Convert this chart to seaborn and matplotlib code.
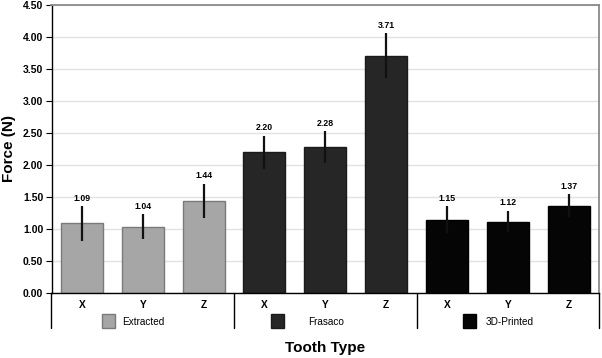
import matplotlib
matplotlib.use("Agg")
import matplotlib.pyplot as plt
import seaborn as sns
import pandas as pd
import numpy as np
from matplotlib.patches import Rectangle

# ---- data ----
groups = ["Extracted", "Frasaco", "3D-Printed"]
directions = ["X", "Y", "Z"]
extracted_means = [1.09, 1.04, 1.44]
frasaco_means = [2.20, 2.28, 3.71]
printed_means = [1.15, 1.12, 1.37]
extracted_err = [0.27, 0.19, 0.27]
frasaco_err = [0.26, 0.25, 0.35]
printed_err = [0.21, 0.17, 0.18]
y_ticks = [0.0, 0.5, 1.0, 1.5, 2.0, 2.5, 3.0, 3.5, 4.0, 4.5]

fill_colors = ["#a6a6a6", "#262626", "#050505"]
edge_colors = ["#7a7a7a", "#1a1a1a", "#000000"]

rows = []
for g, means, errs in zip(groups,
                          [extracted_means, frasaco_means, printed_means],
                          [extracted_err, frasaco_err, printed_err]):
    for d, m, e in zip(directions, means, errs):
        rows.append({"group": g, "direction": d, "slot": f"{g} {d}",
                     "force": m, "err": e})
df = pd.DataFrame(rows)

sns.set_theme(style="white")
plt.rcParams['font.family'] = ['Liberation Sans', 'DejaVu Sans']
plt.rcParams.update({"text.color": "black", "axes.labelcolor": "black",
                     "xtick.color": "black", "ytick.color": "black"})

fig = plt.figure(figsize=(6.02, 3.58), dpi=100)
ax = fig.add_axes([51.5 / 602, 64.7 / 358, 547.5 / 602, 288.3 / 358])

sns.barplot(data=df, x="slot", y="force", hue="group", hue_order=groups,
            palette=fill_colors, dodge=False, width=0.69, errorbar=None,
            legend=False, ax=ax, linewidth=1.0, saturation=1)
for cont, ec in zip(ax.containers, edge_colors):
    for bar in cont:
        bar.set_edgecolor(ec)

xpos = np.arange(len(df))
ax.errorbar(xpos, df["force"], yerr=df["err"], fmt="none", ecolor="#111111",
            elinewidth=1.6, capsize=0, zorder=5)

for x, m, e in zip(xpos, df["force"], df["err"]):
    ax.annotate(f"{m:.2f}", (x, m + e), xytext=(0, 2.5),
                textcoords="offset points", ha="center", va="bottom",
                fontsize=6.3, fontweight="bold", color="black")

# y axis
ax.set_ylim(0, 4.5)
ax.set_yticks(y_ticks)
ax.set_yticklabels([f"{t:.2f}" for t in y_ticks], fontsize=7.5,
                   fontweight="bold", color="black")
ax.tick_params(axis="y", length=4, width=0.8, color="black", pad=2,
               left=True, labelcolor="black")
ax.yaxis.grid(True, color="#e2e2e2", linewidth=1.0)
ax.set_axisbelow(True)

# x axis
ax.set_xlim(-0.5, len(df) - 0.5)
ax.set_xticks(xpos)
ax.set_xticklabels(df["direction"], fontsize=7.3, fontweight="bold",
                   color="black")
ax.tick_params(axis="x", length=0, pad=5, labelcolor="black")

for side in ["left", "bottom"]:
    ax.spines[side].set_color("black")
    ax.spines[side].set_linewidth(1.0)
for side in ["top", "right"]:
    ax.spines[side].set_color("#8a8a8a")
    ax.spines[side].set_linewidth(1.3)

# group separators below axis
trans = ax.get_xaxis_transform()
for xs in [-0.5, 2.5, 5.5, 8.5]:
    ax.plot([xs, xs], [0, -0.122], transform=trans, clip_on=False,
            color="black", linewidth=1.0)

# legend swatches per group
patch_left = [0.325, 3.104, 6.26]
text_left = [0.654, 3.722, 6.643]
for g, fc, ec, pl, tl in zip(groups, fill_colors, edge_colors,
                             patch_left, text_left):
    ax.add_patch(Rectangle((pl, -0.12), 0.222, 0.047, transform=trans,
                           clip_on=False, facecolor=fc, edgecolor=ec,
                           linewidth=1.0))
    ax.text(tl, -0.100, g, transform=trans, ha="left", va="center",
            fontsize=7.2, color="black")

ax.set_xlabel("Tooth Type", fontsize=11, fontweight="bold", color="black")
ax.xaxis.set_label_coords(0.5, -0.165)
ax.set_ylabel("")
fig.text(9 / 602, 1 - 149 / 358, "Force (N)", rotation=90, ha="center",
         va="center", fontsize=11, fontweight="bold", color="black")

fig.savefig("out.png", dpi=100)
